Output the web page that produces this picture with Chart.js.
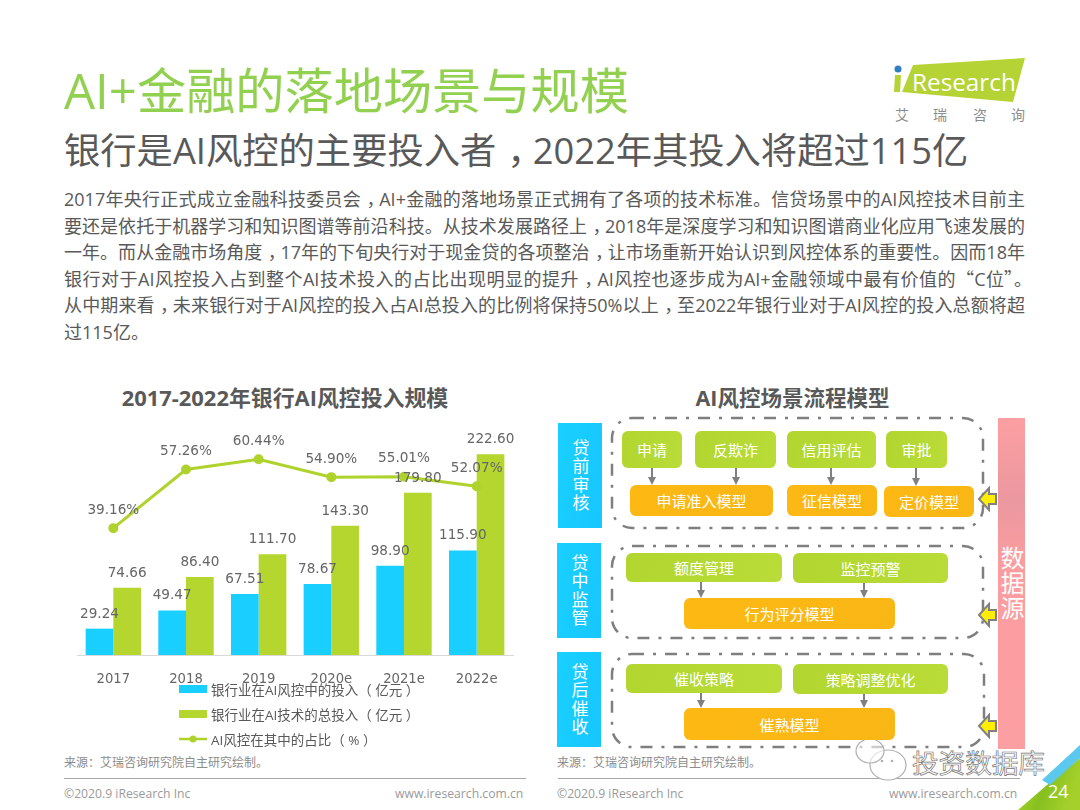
<!DOCTYPE html>
<html lang="zh">
<head>
<meta charset="utf-8">
<title>AI+金融的落地场景与规模</title>
<script src="https://cdn.jsdelivr.net/npm/chart.js@4"></script>
<style>
    /* quotes sit centred in their cell in the original, the TC cut does that */
    @font-face {
        font-family: "PunctCJK";
        src: local("Noto Sans CJK TC"), local("Noto Sans CJK TC Regular"), local("NotoSansCJKtc-Regular");
        unicode-range: U+201C, U+201D;
    }
    * { margin: 0; padding: 0; box-sizing: border-box; }
    html, body { width: 1080px; height: 810px; overflow: hidden; background: #fff; }
    body { position: relative; font-family: "PunctCJK", "Open Sans", "Noto Sans CJK SC", sans-serif; color: #595959; }
    .abs { position: absolute; white-space: nowrap; }
    #overlay { position: absolute; left: 0; top: 0; }
    #intro { position: absolute; left: 64px; top: 186px; font-size: 18px; line-height: 26.6px; }
    #intro div { width: 961px; height: 26.6px; text-align: justify; text-align-last: justify; }
    #intro div:nth-child(4) { width: 968px; }
    #intro div:last-child { text-align-last: left; }
    .comma { margin-left: 0.3em; letter-spacing: -0.3em; }
    .box { position: absolute; display: flex; align-items: center; justify-content: center; color: #fff; font-size: 15px; border-radius: 6px; }
    .green { background: linear-gradient(100deg, #b2d62f, #b9dc38); }
    .orange { background: linear-gradient(100deg, #fdb813, #f9b715); }
    .side { position: absolute; display: flex; align-items: center; justify-content: center; writing-mode: vertical-rl; color: #fff; background: linear-gradient(100deg, #19d0ff, #17c6ff); font-size: 17px; letter-spacing: 1.3px; }
    .source { font-size: 12px; color: #8c8c8c; }
    .copy { font-size: 12.2px; color: #9a9a9a; }
    .legend-item { position: absolute; left: 179px; height: 20px; display: flex; align-items: center; font-size: 13.5px; white-space: nowrap; }
    .legend-mark { width: 28px; margin-right: 4px; position: relative; }
</style>
</head>
<body>
<svg id="overlay" width="1080" height="810" viewBox="0 0 1080 810"></svg>

<div class="abs" style="left:64px;top:55px;font-size:49.2px;line-height:70px;color:#92d050;">AI+金融的落地场景与规模</div>
<div class="abs" style="left:64px;top:123px;font-size:36.3px;line-height:54px;">银行是AI风控的主要投入者<span class="comma">，</span>2022年其投入将超过115亿</div>
<div id="intro"></div>

<div class="abs" style="left:50px;top:384px;width:470px;text-align:center;font-size:21.9px;line-height:28px;font-weight:700;">2017-2022年银行AI风控投入规模</div>
<canvas id="investChart" width="490" height="300" style="position:absolute;left:50px;top:385px;"></canvas>
<div id="legend"></div>

<div class="abs" style="left:557px;top:384px;width:471px;text-align:center;font-size:21.5px;line-height:28px;font-weight:700;">AI风控场景流程模型</div>
<div id="flow"></div>

<div class="abs source" style="left:64px;top:753px;">来源：艾瑞咨询研究院自主研究绘制。</div>
<div class="abs source" style="left:557px;top:753px;">来源：艾瑞咨询研究院自主研究绘制。</div>
<div class="abs copy" style="left:64px;top:785px;">©2020.9 iResearch Inc</div>
<div class="abs copy" style="left:557px;top:785px;">©2020.9 iResearch Inc</div>
<div class="abs copy" style="left:395px;top:785px;">www.iresearch.com.cn</div>
<div class="abs copy" style="left:889px;top:785px;">www.iresearch.com.cn</div>

<div class="abs" style="left:912px;top:745px;font-size:26.6px;line-height:36px;color:#fff;-webkit-text-stroke:0.7px #777;">投资数据库</div>
<div class="abs" style="left:1048px;top:779px;font-size:18px;line-height:24px;color:#fff;">24</div>

<div class="abs" style="left:912px;top:64px;font-size:24.3px;line-height:36px;color:#fff;">Research</div>
<div class="abs" style="left:895px;top:105px;font-size:14px;line-height:20px;color:#8c8c8c;">艾</div>
<div class="abs" style="left:933px;top:105px;font-size:14px;line-height:20px;color:#8c8c8c;">瑞</div>
<div class="abs" style="left:973px;top:105px;font-size:14px;line-height:20px;color:#8c8c8c;">咨</div>
<div class="abs" style="left:1011px;top:105px;font-size:14px;line-height:20px;color:#8c8c8c;">询</div>

<script>
// chart data
const years = ['2017', '2018', '2019', '2020e', '2021e', '2022e'];
const riskInvest = [29.24, 49.47, 67.51, 78.67, 98.90, 115.90];
const totalInvest = [74.66, 86.40, 111.70, 143.30, 179.80, 222.60];
const riskShare = [39.16, 57.26, 60.44, 54.90, 55.01, 52.07];
const seriesNames = ['银行业在AI风控中的投入（ 亿元 ）', '银行业在AI技术的总投入（ 亿元 ）', 'AI风控在其中的占比（ % ）'];

const introLines = [
    '2017年央行正式成立金融科技委员会<span class="comma">，</span>AI+金融的落地场景正式拥有了各项的技术标准。信贷场景中的AI风控技术目前主',
    '要还是依托于机器学习和知识图谱等前沿科技。从技术发展路径上<span class="comma">，</span>2018年是深度学习和知识图谱商业化应用飞速发展的',
    '一年。而从金融市场角度<span class="comma">，</span>17年的下旬央行对于现金贷的各项整治<span class="comma">，</span>让市场重新开始认识到风控体系的重要性。因而18年',
    '银行对于AI风控投入占到整个AI技术投入的占比出现明显的提升<span class="comma">，</span>AI风控也逐步成为AI+金融领域中最有价值的“C位”。',
    '从中期来看<span class="comma">，</span>未来银行对于AI风控的投入占AI总投入的比例将保持50%以上<span class="comma">，</span>至2022年银行业对于AI风控的投入总额将超',
    '过115亿。'
];

const BLUE = '#19cfff';
const GREEN = '#b4d62f';
const LINE_GREEN = '#afd22c';

document.getElementById('intro').innerHTML = introLines.map(line => `<div>${line}</div>`).join('');

// value labels above the marks, there is no datalabels plugin here
const valueLabels = {
    id: 'valueLabels',
    afterDatasetsDraw(chart) {
        const ctx = chart.ctx;
        ctx.save();
        ctx.font = '13.6px "DejaVu Sans"';
        ctx.fillStyle = '#666666';
        ctx.textAlign = 'center';
        ctx.textBaseline = 'middle';
        chart.data.datasets.forEach((dataset, i) => {
            const isLine = dataset.type === 'line';
            chart.getDatasetMeta(i).data.forEach((el, j) => {
                const text = dataset.data[j].toFixed(2) + (isLine ? '%' : '');
                ctx.fillText(text, el.x, el.y - (isLine ? 18 : 14.5));
            });
        });
        ctx.restore();
    }
};

const chart = new Chart(document.getElementById('investChart'), {
    data: {
        labels: years,
        datasets: [
            { type: 'line', label: seriesNames[2], data: riskShare, yAxisID: 'y2', order: 0,
              borderColor: LINE_GREEN, backgroundColor: LINE_GREEN, borderWidth: 3, tension: 0,
              pointRadius: 3.5, pointBackgroundColor: LINE_GREEN, pointBorderColor: LINE_GREEN },
            { type: 'bar', label: seriesNames[0], data: riskInvest, yAxisID: 'y', order: 1, backgroundColor: BLUE },
            { type: 'bar', label: seriesNames[1], data: totalInvest, yAxisID: 'y', order: 1, backgroundColor: GREEN }
        ]
    },
    options: {
        responsive: false,
        animation: false,
        layout: { padding: { left: 27, right: 27, top: 40, bottom: 0 } },
        datasets: { bar: { barPercentage: 1, categoryPercentage: 0.762 } },
        plugins: {
            legend: { display: false },
            tooltip: { enabled: false }
        },
        scales: {
            x: {
                grid: { display: false },
                border: { display: true, color: '#d9d9d9', width: 1 },
                ticks: { color: '#666666', font: { family: '"DejaVu Sans"', size: 13.2 }, padding: 9, maxRotation: 0 },
                afterFit(scale) { scale.height = 30; }
            },
            y: { display: false, min: 0, max: 255 },
            y2: { display: false, min: 0, max: 71 }
        }
    },
    plugins: [valueLabels]
});

// legend built from the chart's own datasets, stacked as in the picture
const legendOrder = [1, 2, 0];
legendOrder.forEach((dsIndex, row) => {
    const ds = chart.data.datasets[dsIndex];
    const item = document.createElement('div');
    item.className = 'legend-item';
    item.style.top = (679 + row * 25) + 'px';
    const mark = ds.type === 'line'
        ? `<svg width="28" height="10" style="display:block"><line x1="0" y1="5" x2="28" y2="5" stroke="${ds.borderColor}" stroke-width="2.5"/><circle cx="14" cy="5" r="3.5" fill="${ds.borderColor}"/></svg>`
        : `<div style="height:8px;background:${ds.backgroundColor}"></div>`;
    item.innerHTML = `<div class="legend-mark">${mark}</div><span>${ds.label}</span>`;
    document.getElementById('legend').appendChild(item);
});

// right hand flow diagram
const flow = document.getElementById('flow');
function box(cls, x, y, w, h, text) {
    const el = document.createElement('div');
    el.className = cls;
    el.style.cssText = `left:${x}px;top:${y}px;width:${w}px;height:${h}px;`;
    el.textContent = text;
    flow.appendChild(el);
}
box('side', 558, 423, 44, 105, '贷前审核');
box('side', 557, 543, 44, 95, '贷中监管');
box('side', 557, 652, 44, 95, '贷后催收');

box('box green', 622, 431, 60, 37, '申请');
box('box green', 695, 431, 81, 37, '反欺诈');
box('box green', 787, 431, 89, 37, '信用评估');
box('box green', 886, 431, 61, 37, '审批');
box('box orange', 630, 485, 143, 31, '申请准入模型');
box('box orange', 787, 485, 90, 31, '征信模型');
box('box orange', 884, 486, 90, 31, '定价模型');

box('box green', 626, 553, 156, 29, '额度管理');
box('box green', 793, 553, 155, 30, '监控预警');
box('box orange', 684, 598, 211, 31, '行为评分模型');

box('box green', 626, 664, 156, 29, '催收策略');
box('box green', 793, 664, 155, 30, '策略调整优化');
box('box orange', 684, 708, 211, 32, '催熟模型');

const sourceBar = document.createElement('div');
sourceBar.style.cssText = 'position:absolute;left:998px;top:418px;width:27px;height:331px;background:linear-gradient(180deg,#fc9fa2,#eb989f 25%,#fb9da0 45%,#fc9fa2);display:flex;align-items:center;justify-content:center;writing-mode:vertical-rl;color:#fff;font-size:24px;letter-spacing:1px;';
sourceBar.textContent = '数据源';
flow.appendChild(sourceBar);

// svg bits: dashed frames, arrows, rules, logo, corner
let svg = `
  <defs><linearGradient id="cornerFill" x1="0" y1="0" x2="1" y2="0.3">
    <stop offset="0" stop-color="#b7d82f"/><stop offset="0.55" stop-color="#86c01f"/><stop offset="1" stop-color="#a5d02b"/>
  </linearGradient></defs>`;

[[612, 418, 371, 110], [612, 546, 371, 92], [612, 654, 372, 93]].forEach(f => {
    svg += `<rect x="${f[0]}" y="${f[1]}" width="${f[2]}" height="${f[3]}" rx="20" fill="none" stroke="#7f7f7f" stroke-width="2.5" stroke-dasharray="12 9 3 9"/>`;
});

[[652, 468, 485], [736, 468, 485], [831, 468, 485], [916, 468, 486],
 [701, 582, 598], [864, 583, 598], [701, 693, 708], [864, 694, 708]].forEach(a => {
    svg += `<line x1="${a[0]}" y1="${a[1]}" x2="${a[0]}" y2="${a[2] - 6}" stroke="#808080" stroke-width="2"/>`;
    svg += `<polygon points="${a[0] - 4},${a[2] - 8} ${a[0] + 4},${a[2] - 8} ${a[0]},${a[2]}" fill="#808080"/>`;
});

[499, 615, 726].forEach(y => {
    svg += `<polygon points="979,${y} 989,${y - 11} 989,${y - 5} 996,${y - 5} 996,${y + 5} 989,${y + 5} 989,${y + 11}" fill="#ffee00" stroke="#808080" stroke-width="2"/>`;
});

[[64, 526], [558, 1020]].forEach(r => {
    svg += `<line x1="${r[0]}" y1="778.5" x2="${r[1]}" y2="778.5" stroke="#a6a6a6" stroke-width="1"/>`;
});

svg += `<polygon points="913,65 1025,58 1013,102 902,92" fill="#b5d334"/>
  <circle cx="898" cy="69" r="3.5" fill="#2f7fc1"/>
  <polygon points="895,75 901,75 900,92 894,92" fill="#b5d334"/>
  <polygon points="1018,810 1047,785 1080,758 1080,810" fill="url(#cornerFill)"/>
  <polygon points="1042,780 1080,745 1080,758 1050,785" fill="#5bc8ee"/>
  <ellipse cx="888" cy="765" rx="18" ry="15" fill="#fff" stroke="#b0b0b0" stroke-width="1.2"/>
  <ellipse cx="870" cy="751" rx="14" ry="12" fill="#fff" fill-opacity="0.6" stroke="#b0b0b0" stroke-width="1.2"/>
  <circle cx="882" cy="761" r="1.3" fill="#b0b0b0"/><circle cx="892" cy="761" r="1.3" fill="#b0b0b0"/>`;
document.getElementById('overlay').innerHTML = svg;
</script>
</body>
</html>
